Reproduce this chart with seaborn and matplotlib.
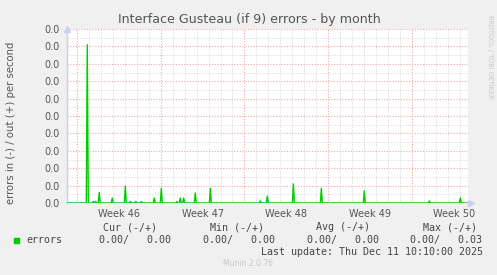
import matplotlib
matplotlib.use("Agg")
import matplotlib.pyplot as plt
import seaborn as sns
import pandas as pd
import numpy as np
from matplotlib.ticker import FixedLocator, FormatStrFormatter

# ---- data (days since start of Week 46 grid line) ----
spike_days = [0.86, 1.36, 1.56, 1.86, 2.95, 4.04, 4.46, 4.91, 5.38, 6.46, 7.05,
              8.34, 8.64, 8.92, 9.89, 11.15, 15.33, 15.91, 18.09, 20.43, 24.02,
              29.46, 32.05]
spike_values = [0.0300, 0.0003, 0.0003, 0.0020, 0.00095, 0.0032, 0.0003, 0.0003,
                0.0003, 0.00095, 0.0028, 0.0003, 0.00095, 0.00095, 0.0019, 0.0028,
                0.0004, 0.0013, 0.0036, 0.0028, 0.0023, 0.0004, 0.00095]
week_labels = ["Week 46", "Week 47", "Week 48", "Week 49", "Week 50"]
week_starts = [0, 7, 14, 21, 28]
y_ticks = [0.0, 0.0033, 0.0066, 0.0099, 0.0132, 0.0165, 0.0198, 0.0231, 0.0264, 0.0297, 0.033]

x_min, x_max = -0.836, 32.69
half = 1.0 / 12.0

xs, ys = [x_min], [0.0]
for d, v in zip(spike_days, spike_values):
    xs += [d - half, d, d + half]
    ys += [0.0, v, 0.0]
xs.append(x_max)
ys.append(0.0)
df = pd.DataFrame({"day": xs, "errors": ys})

sns.set_theme(style="white")
plt.rcParams["font.family"] = ["DejaVu Sans"]

W, H = 497, 275
fig = plt.figure(figsize=(W / 100, H / 100), dpi=100)
fig.patch.set_facecolor("#F0F0F0")
L, R, T, B = 67, 468, 29, 203
ax = fig.add_axes([L / W, 1 - B / H, (R - L) / W, (B - T) / H])
ax.set_facecolor("white")

ax.set_xlim(x_min, x_max)
ax.set_ylim(0, 0.033)

# grid
for d in range(0, 33):
    if d in week_starts:
        continue
    ax.axvline(d, color="#D8D8D8", lw=0.7, ls=(0, (1, 1.5)), zorder=1)
for i in range(len(y_ticks) - 1):
    ax.axhline((y_ticks[i] + y_ticks[i + 1]) / 2, color="#D8D8D8", lw=0.7, ls=(0, (1, 1.5)), zorder=1)
for d in week_starts:
    ax.axvline(d, color="#F0A8A8", lw=0.8, ls=(0, (1, 1.5)), zorder=1.5)
for yv in y_ticks:
    ax.axhline(yv, color="#F0A8A8", lw=0.8, ls=(0, (1, 1.5)), zorder=1.5)

sns.lineplot(data=df, x="day", y="errors", color="#00CC00", lw=1.0, ax=ax, zorder=3)
ax.axhline(0, color="#888888", lw=1.0, zorder=4)

for s in ["top", "right", "bottom"]:
    ax.spines[s].set_visible(False)
ax.spines["left"].set_color("#CCCCEE")
ax.spines["left"].set_linewidth(1.0)

ax.yaxis.set_major_locator(FixedLocator(y_ticks))
ax.yaxis.set_major_formatter(FormatStrFormatter("%.1f"))
ax.set_xticks([w + 3.5 for w in week_starts])
ax.set_xticklabels(week_labels)
ax.tick_params(axis="both", labelsize=7, colors="#555555", length=0, pad=4)
ax.tick_params(axis="y", pad=5)
ax.set_xlabel("")
ax.set_ylabel("")

# arrows
ax.plot([x_min], [0.033], marker="^", color="#CCCCF4", ms=5, clip_on=False, zorder=5)
ax.plot([x_max + 0.25], [0], marker=">", color="#CCCCF4", ms=5, clip_on=False, zorder=5)

# texts
fig.text(249 / W, 1 - 19 / H, "Interface Gusteau (if 9) errors - by month", ha="center", va="center",
         fontsize=9.1, color="#555555")
fig.text(11 / W, 1 - 123 / H, "errors in (-) / out (+) per second", rotation=90, ha="center",
         va="center", fontsize=7.3, color="#555555")
fig.text(490 / W, 1 - 57 / H, "RRDTOOL / TOBI OETIKER", rotation=270, ha="center", va="center",
         fontsize=4.7, color="#C8C8C8")

mono = dict(family="DejaVu Sans Mono", fontsize=7.2, color="#444444", va="center")
def t(x, y, s, ha="left", **kw):
    d = dict(mono)
    d.update(kw)
    fig.text(x / W, 1 - y / H, s, ha=ha, **d)

hy = 227.5
t(103, hy, "Cur (-/+)")
t(210, hy, "Min (-/+)")
t(316, hy, "Avg (-/+)")
t(423, hy, "Max (-/+)")
ry = 240
fig.patches.append(plt.Rectangle((14 / W, 1 - 243 / H), 5 / W, 5 / H, transform=fig.transFigure,
                                 color="#00CC00"))
t(26, ry, "errors")
t(171, ry, "0.00/   0.00", ha="right")
t(275, ry, "0.00/   0.00", ha="right")
t(379, ry, "0.00/   0.00", ha="right")
t(482, ry, "0.00/   0.03", ha="right")
t(483, 251.7, "Last update: Thu Dec 11 10:10:00 2025", ha="right")
fig.text(248 / W, 1 - 264 / H, "Munin 2.0.76", ha="center", va="center", fontsize=5.5,
         color="#C8C8C8")

fig.savefig("out.png", dpi=100, facecolor=fig.get_facecolor())
